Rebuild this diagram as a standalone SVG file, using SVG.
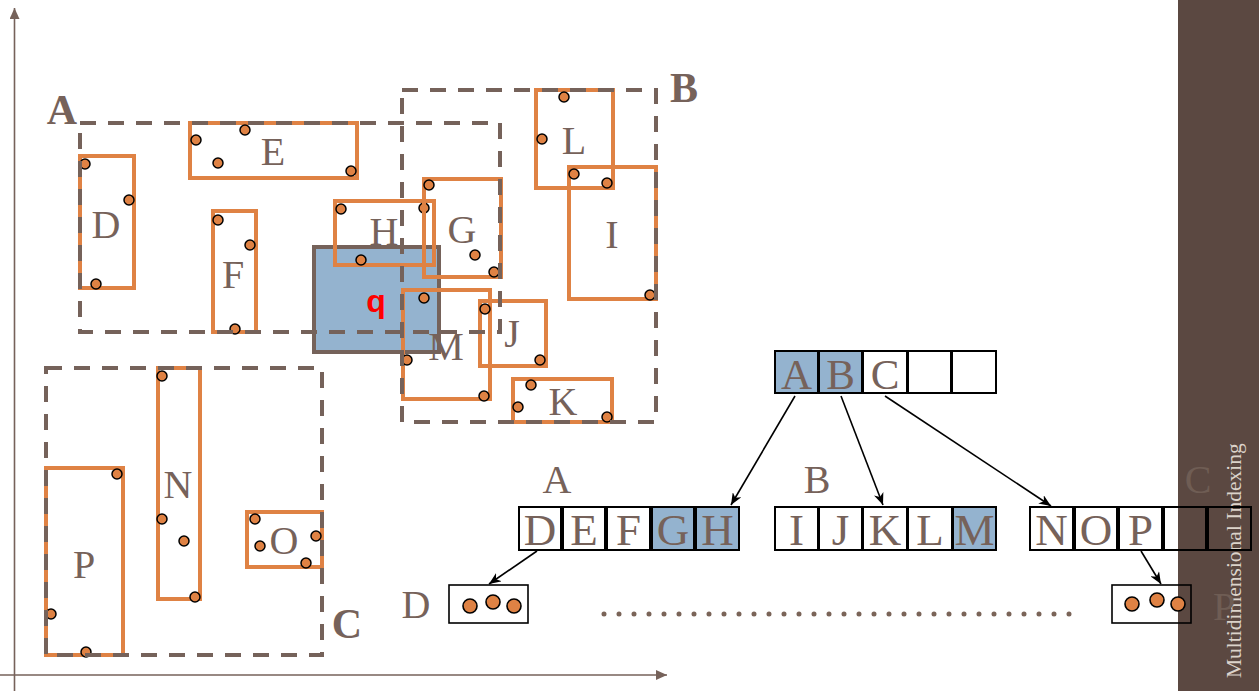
<svg xmlns="http://www.w3.org/2000/svg" width="1259" height="691" viewBox="0 0 1259 691">
<defs>
<marker id="ah" markerWidth="13" markerHeight="10" refX="12" refY="5" orient="auto" markerUnits="userSpaceOnUse">
<path d="M0,0 L12,5 L0,10 L3.5,5 z" fill="#000"/>
</marker>
<marker id="axh" markerWidth="12" markerHeight="12" refX="11" refY="5" orient="auto" markerUnits="userSpaceOnUse">
<path d="M0,0 L11,5 L0,10 z" fill="#76625a"/>
</marker>
<style>
.axis{stroke:#76625a;stroke-width:1.6;fill:none}
.dash{fill:none;stroke:#75625a;stroke-width:4;stroke-dasharray:16 12}
.orect{fill:none;stroke:#df8244;stroke-width:4}
.pt{fill:#df8244;stroke:#000;stroke-width:1.5}
.lpt{fill:#df8244;stroke:#000;stroke-width:1.6}
.lbl{font-family:"Liberation Serif","Times New Roman",serif;font-size:40px;fill:#76625a;text-anchor:middle}
.big{font-family:"Liberation Serif","Times New Roman",serif;font-size:42px;font-weight:bold;fill:#76625a;text-anchor:middle}
.cell{fill:none;stroke:#000;stroke-width:2}
.cellb{fill:#94b3cf;stroke:#000;stroke-width:2}
.ct{font-family:"Liberation Serif","Times New Roman",serif;font-size:45px;fill:#76625a;text-anchor:middle}
.rt{font-family:"Liberation Serif","Times New Roman",serif;font-size:43px;fill:#76625a;text-anchor:middle}
.conn{stroke:#000;stroke-width:1.6;fill:none;marker-end:url(#ah)}
.fade{font-family:"Liberation Serif","Times New Roman",serif;font-size:40px;fill:#6f5d54;text-anchor:middle}
</style>
</defs>
<rect width="1259" height="691" fill="#fff"/>
<g id="sidebar">
<rect x="1178" y="0" width="81" height="691" fill="#5b4841"/>
<text transform="translate(1241,678) rotate(-90)" font-family="'Liberation Serif','Times New Roman',serif" font-size="21.5" fill="#dcd3ca">Multidimensional Indexing</text>
</g>
<g id="axes">
<line class="axis" x1="14.5" y1="691" x2="14.5" y2="8" marker-end="url(#axh)"/>
<line class="axis" x1="0" y1="675" x2="667" y2="675" marker-end="url(#axh)"/>
</g>
<g id="query">
<rect x="314" y="247" width="125" height="105" fill="#94b3cf" stroke="#75625a" stroke-width="4"/>
<text x="376" y="312" font-family="'Liberation Sans',Arial,sans-serif" font-size="32" font-weight="bold" fill="#ff0000" text-anchor="middle">q</text>
</g>
<g id="rect-E"><rect class="orect" x="190" y="123" width="167" height="55"/><circle class="pt" cx="196" cy="140" r="5"/><circle class="pt" cx="245" cy="130" r="5"/><circle class="pt" cx="218" cy="163" r="5"/><circle class="pt" cx="351" cy="171" r="5"/><text class="lbl" x="273" y="165">E</text></g>
<g id="rect-D"><rect class="orect" x="80" y="156" width="54" height="132"/><circle class="pt" cx="85" cy="164" r="5"/><circle class="pt" cx="129" cy="200" r="5"/><circle class="pt" cx="96" cy="284" r="5"/><text class="lbl" x="106" y="238">D</text></g>
<g id="rect-F"><rect class="orect" x="213" y="211" width="43" height="121"/><circle class="pt" cx="218" cy="220" r="5"/><circle class="pt" cx="250" cy="245" r="5"/><circle class="pt" cx="235" cy="329" r="5"/><text class="lbl" x="233" y="288">F</text></g>
<g id="rect-H"><rect class="orect" x="335" y="201" width="99" height="64"/><circle class="pt" cx="341" cy="209" r="5"/><circle class="pt" cx="424" cy="208" r="5"/><circle class="pt" cx="361" cy="260" r="5"/><text class="lbl" x="384" y="245">H</text></g>
<g id="rect-G"><rect class="orect" x="424" y="179" width="77" height="98"/><circle class="pt" cx="429" cy="185" r="5"/><circle class="pt" cx="475" cy="255" r="5"/><circle class="pt" cx="494" cy="272" r="5"/><text class="lbl" x="462" y="243">G</text></g>
<g id="rect-M"><rect class="orect" x="403" y="290" width="87" height="109"/><circle class="pt" cx="424" cy="298" r="5"/><circle class="pt" cx="407" cy="360" r="5"/><circle class="pt" cx="484" cy="396" r="5"/><text class="lbl" x="446" y="360">M</text></g>
<g id="rect-J"><rect class="orect" x="480" y="301" width="66" height="65"/><circle class="pt" cx="485" cy="309" r="5"/><circle class="pt" cx="540" cy="360" r="5"/><text class="lbl" x="512" y="347">J</text></g>
<g id="rect-L"><rect class="orect" x="536" y="90" width="77" height="98"/><circle class="pt" cx="564" cy="97" r="5"/><circle class="pt" cx="542" cy="139" r="5"/><circle class="pt" cx="607" cy="183" r="5"/><text class="lbl" x="574" y="154">L</text></g>
<g id="rect-I"><rect class="orect" x="569" y="167" width="87" height="132"/><circle class="pt" cx="574" cy="174" r="5"/><circle class="pt" cx="650" cy="295" r="5"/><text class="lbl" x="612" y="248">I</text></g>
<g id="rect-K"><rect class="orect" x="513" y="379" width="99" height="43"/><circle class="pt" cx="531" cy="385" r="5"/><circle class="pt" cx="518" cy="407" r="5"/><circle class="pt" cx="607" cy="417" r="5"/><text class="lbl" x="563" y="415">K</text></g>
<g id="rect-P"><rect class="orect" x="46" y="468" width="77" height="187"/><circle class="pt" cx="117" cy="474" r="5"/><circle class="pt" cx="51" cy="614" r="5"/><circle class="pt" cx="86" cy="652" r="5"/><text class="lbl" x="84" y="578">P</text></g>
<g id="rect-N"><rect class="orect" x="158" y="368" width="42" height="231"/><circle class="pt" cx="162" cy="376" r="5"/><circle class="pt" cx="162" cy="519" r="5"/><circle class="pt" cx="184" cy="541" r="5"/><circle class="pt" cx="195" cy="597" r="5"/><text class="lbl" x="178" y="498">N</text></g>
<g id="rect-O"><rect class="orect" x="247" y="512" width="75" height="55"/><circle class="pt" cx="255" cy="519" r="5"/><circle class="pt" cx="260" cy="546" r="5"/><circle class="pt" cx="316" cy="536" r="5"/><circle class="pt" cx="306" cy="563" r="5"/><text class="lbl" x="284" y="554">O</text></g>
<g id="region-A"><rect class="dash" x="80" y="123" width="420" height="209"/><text class="big" x="62" y="124">A</text></g>
<g id="region-B"><rect class="dash" x="402" y="90" width="254" height="332"/><text class="big" x="684" y="102">B</text></g>
<g id="region-C"><rect class="dash" x="46" y="368" width="276" height="287"/><text class="big" x="347" y="638">C</text></g>
<g id="node-root">
<rect class="cellb" x="775" y="351" width="43" height="42"/><rect class="cellb" x="819" y="351" width="43" height="42"/><rect class="cell" x="863" y="351" width="44" height="42"/><rect class="cell" x="908" y="351" width="43" height="42"/><rect class="cell" x="952" y="351" width="44" height="42"/>
<text class="rt" x="796.5" y="389">A</text><text class="rt" x="840.5" y="389">B</text><text class="rt" x="885" y="389">C</text>
</g>
<g id="node-A">
<text class="lbl" x="557" y="493">A</text>
<rect class="cell" x="519" y="507" width="42" height="43"/><rect class="cell" x="563" y="507" width="42" height="43"/><rect class="cell" x="607" y="507" width="43" height="43"/><rect class="cellb" x="652" y="507" width="42" height="43"/><rect class="cellb" x="696" y="507" width="43" height="43"/>
<text class="ct" x="540" y="545">D</text><text class="ct" x="584" y="545">E</text><text class="ct" x="628.5" y="545">F</text><text class="ct" x="673" y="545">G</text><text class="ct" x="717.5" y="545">H</text>
</g>
<g id="node-B">
<text class="lbl" x="817" y="493">B</text>
<rect class="cell" x="775" y="507" width="43" height="43"/><rect class="cell" x="819" y="507" width="43" height="43"/><rect class="cell" x="863" y="507" width="44" height="43"/><rect class="cell" x="908" y="507" width="44" height="43"/><rect class="cellb" x="953" y="507" width="43" height="43"/>
<text class="ct" x="796.5" y="545">I</text><text class="ct" x="840.5" y="545">J</text><text class="ct" x="885" y="545">K</text><text class="ct" x="930" y="545">L</text><text class="ct" x="974.5" y="545">M</text>
</g>
<g id="node-C">
<text class="fade" x="1198" y="493">C</text>
<rect class="cell" x="1030" y="507" width="43" height="43"/><rect class="cell" x="1075" y="507" width="42" height="43"/><rect class="cell" x="1119" y="507" width="43" height="43"/><rect class="cell" x="1164" y="507" width="42" height="43"/><rect class="cell" x="1208" y="507" width="43" height="43"/>
<text class="ct" x="1051.5" y="545">N</text><text class="ct" x="1096" y="545">O</text><text class="ct" x="1140.5" y="545">P</text>
</g>
<g id="leaf-D">
<text class="lbl" x="416" y="618">D</text>
<rect x="449" y="585" width="79" height="38" fill="none" stroke="#000" stroke-width="1.6"/>
<circle class="lpt" cx="470" cy="606" r="7"/><circle class="lpt" cx="493" cy="602" r="7"/><circle class="lpt" cx="514" cy="606" r="7"/>
</g>
<g id="leaf-P">
<text class="fade" x="1224" y="620">P</text>
<rect x="1112" y="585" width="79" height="38" fill="none" stroke="#000" stroke-width="1.6"/>
<circle class="lpt" cx="1132" cy="604" r="7"/><circle class="lpt" cx="1157" cy="600" r="7"/><circle class="lpt" cx="1178" cy="604" r="7"/>
</g>
<g id="ellipsis">
<line x1="604" y1="614" x2="1069.5" y2="614" stroke="#7a6458" stroke-width="5" stroke-linecap="round" stroke-dasharray="0.01 14.99"/>
</g>
<g id="connectors">
<line class="conn" x1="795" y1="396" x2="731" y2="505"/>
<line class="conn" x1="841" y1="396" x2="883" y2="505"/>
<line class="conn" x1="885" y1="396" x2="1051" y2="506"/>
<line class="conn" x1="537" y1="551" x2="489" y2="584"/>
<line class="conn" x1="1141" y1="551" x2="1161" y2="584"/>
</g>
</svg>
